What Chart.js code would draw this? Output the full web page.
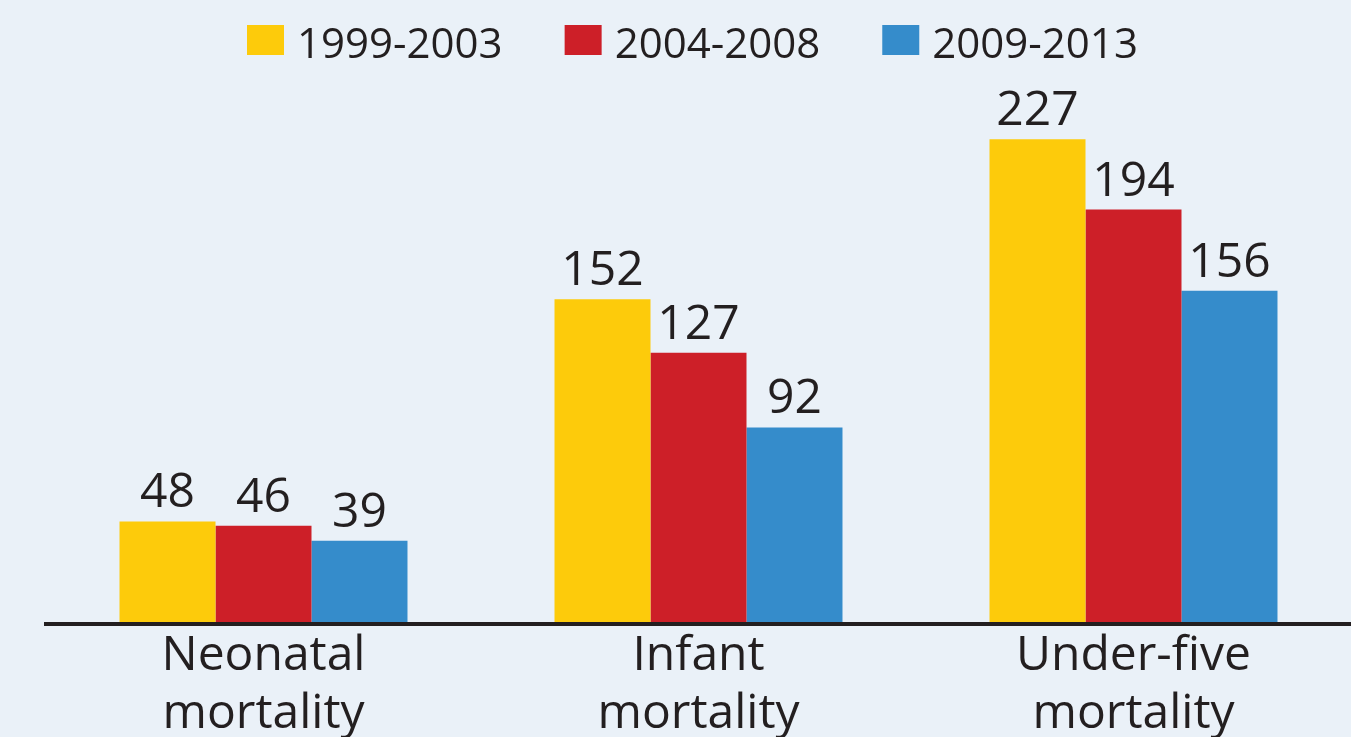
<!DOCTYPE html>
<html>
<head>
<meta charset="utf-8">
<script src="https://cdn.jsdelivr.net/npm/chart.js@4"></script>
<style>
  html, body { margin: 0; padding: 0; background: #EAF1F8; overflow: hidden; }
  #wrap { width: 1351px; height: 737px; position: relative; }
</style>
</head>
<body>
<div id="wrap"><canvas id="c" width="1351" height="737"></canvas></div>
<script>
const categories = [["Neonatal", "mortality"], ["Infant", "mortality"], ["Under-five", "mortality"]];
const seriesNames = ["1999-2003", "2004-2008", "2009-2013"];
const values1999 = [48, 152, 227];
const values2004 = [46, 127, 194];
const values2009 = [39, 92, 156];
const colors = ["#FDCB0B", "#CD1F28", "#358CCB"];

const TEXT = "#231F20";
const FONT = "'Open Sans', 'Noto Sans', sans-serif";

const bgPlugin = {
  id: "bg",
  beforeDraw(chart) {
    const ctx = chart.ctx;
    ctx.save();
    ctx.fillStyle = "#EAF1F8";
    ctx.fillRect(0, 0, chart.width, chart.height);
    ctx.restore();
  }
};

const valueLabels = {
  id: "valueLabels",
  afterDatasetsDraw(chart) {
    const ctx = chart.ctx;
    ctx.save();
    ctx.fillStyle = TEXT;
    ctx.font = "48px " + FONT;
    ctx.textAlign = "center";
    ctx.textBaseline = "alphabetic";
    chart.data.datasets.forEach((ds, i) => {
      const meta = chart.getDatasetMeta(i);
      meta.data.forEach((bar, j) => {
        ctx.fillText(String(ds.data[j]), bar.x, bar.y - 14);
      });
    });
    ctx.restore();
  }
};

const customLegend = {
  id: "customLegend",
  afterDraw(chart) {
    const ctx = chart.ctx;
    ctx.save();
    ctx.font = "42px " + FONT;
    ctx.textBaseline = "alphabetic";
    ctx.textAlign = "left";
    let x = 247;
    chart.data.datasets.forEach((ds) => {
      ctx.fillStyle = ds.backgroundColor;
      ctx.fillRect(x, 25, 37, 30);
      ctx.fillStyle = TEXT;
      const tx = x + 50;
      ctx.fillText(ds.label, tx, 58);
      x = tx + ctx.measureText(ds.label).width + 62;
    });
    ctx.restore();
  }
};

new Chart(document.getElementById("c"), {
  type: "bar",
  data: {
    labels: categories,
    datasets: [
      { label: seriesNames[0], data: values1999, backgroundColor: colors[0] },
      { label: seriesNames[1], data: values2004, backgroundColor: colors[1] },
      { label: seriesNames[2], data: values2009, backgroundColor: colors[2] }
    ]
  },
  options: {
    responsive: false,
    animation: false,
    devicePixelRatio: 1,
    layout: { padding: { top: 90, left: 46, right: 0, bottom: 0 } },
    datasets: { bar: { categoryPercentage: 0.662, barPercentage: 1.0, borderWidth: 0 } },
    plugins: {
      legend: { display: false },
      tooltip: { enabled: false },
      title: { display: false }
    },
    scales: {
      x: {
        grid: { display: false, drawTicks: false },
        border: { display: true, color: TEXT, width: 4, z: 1 },
        ticks: {
          color: TEXT,
          font: { family: FONT, size: 48, lineHeight: 1.2 },
          padding: 4,
          maxRotation: 0,
          autoSkip: false
        },
        afterFit(axis) { axis.height = 113; }
      },
      y: {
        display: false,
        min: 0,
        max: 250
      }
    }
  },
  plugins: [bgPlugin, valueLabels, customLegend]
});
</script>
</body>
</html>
